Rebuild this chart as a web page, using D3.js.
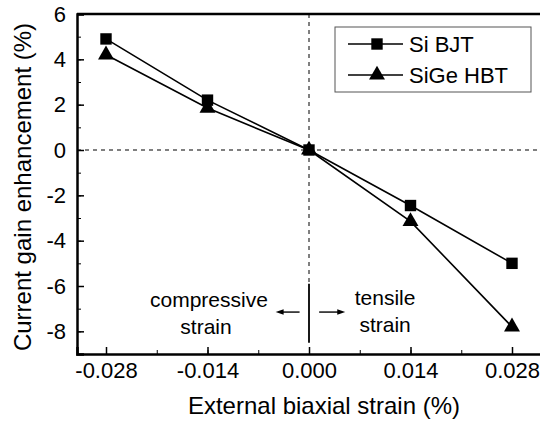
<!DOCTYPE html>
<html>
<head>
<meta charset="utf-8">
<script src="https://cdnjs.cloudflare.com/ajax/libs/d3/7.8.5/d3.min.js"></script>
<style>
  body { margin: 0; background: #fff; }
  svg { display: block; font-family: "Liberation Sans", Arial, sans-serif; }
  .axis text { font-size: 22px; fill: #000; }
  .axis path, .axis line { stroke: #000; }
</style>
</head>
<body>
<svg id="chart" width="540" height="422"></svg>
<script>
"use strict";

// strain values (%)
var strains = [-0.028, -0.014, 0.000, 0.014, 0.028];
var siBJT = [4.9, 2.2, 0.0, -2.45, -5.0];
var siGeHBT = [4.2, 1.85, 0.0, -3.15, -7.8];
var xTicks = [-0.028, -0.014, 0.000, 0.014, 0.028];
var yTicks = [-8, -6, -4, -2, 0, 2, 4, 6];

var svg = d3.select("#chart");
var margin = { left: 77, top: 14, right: -1, bottom: 68 };
var width = 540 - margin.left - margin.right;
var height = 422 - margin.top - margin.bottom;

var x = d3.scaleLinear().domain([-0.032, 0.032]).range([0, width]);
var y = d3.scaleLinear().domain([-9, 6]).range([height, 0]);

var g = svg.append("g")
    .attr("transform", "translate(" + margin.left + "," + margin.top + ")");

/*
 * Reference dashed lines
 */
g.append("line")
    .attr("x1", 0).attr("x2", width)
    .attr("y1", y(0)).attr("y2", y(0))
    .attr("stroke", "#000").attr("stroke-width", 1)
    .attr("stroke-dasharray", "4,4");
g.append("line")
    .attr("x1", x(0)).attr("x2", x(0))
    .attr("y1", 0).attr("y2", y(-5.9))
    .attr("stroke", "#000").attr("stroke-width", 1)
    .attr("stroke-dasharray", "4,4");

/*
 * Axes with inward ticks
 */
var minorX = d3.range(-0.028, 0.0281, 0.007);
var minorY = d3.range(-9, 6.1, 1);

g.append("g")
    .attr("class", "axis")
    .attr("transform", "translate(0," + height + ")")
    .call(d3.axisBottom(x).tickValues(minorX).tickSize(-4).tickFormat(""))
    .call(function(s) { s.select(".domain").remove(); });
g.append("g")
    .attr("class", "axis axis--x")
    .attr("transform", "translate(0," + height + ")")
    .call(d3.axisBottom(x).tickValues(xTicks).tickSize(-7).tickPadding(8)
        .tickFormat(d3.format(".3f")))
    .call(function(s) {
        s.select(".domain").attr("stroke-width", 2.5);
        s.selectAll("line").attr("stroke-width", 1.5);
        s.selectAll("text").text(function(d) { return d3.format(".3f")(d).replace("−", "-"); });
    });

g.append("g")
    .attr("class", "axis")
    .call(d3.axisLeft(y).tickValues(minorY).tickSize(-4).tickFormat(""))
    .call(function(s) { s.select(".domain").remove(); });
g.append("g")
    .attr("class", "axis axis--y")
    .call(d3.axisLeft(y).tickValues(yTicks).tickSize(-7).tickPadding(11)
        .tickFormat(function(d) { return String(d); }))
    .call(function(s) {
        s.select(".domain").attr("stroke-width", 2.5);
        s.selectAll("line").attr("stroke-width", 1.5);
    });

// top frame
g.append("line")
    .attr("x1", 0).attr("x2", width)
    .attr("y1", 0).attr("y2", 0)
    .attr("stroke", "#000").attr("stroke-width", 2.5);

/*
 * Series
 */
var series = [
    { name: "Si BJT", values: siBJT, symbol: d3.symbolSquare, size: 130 },
    { name: "SiGe HBT", values: siGeHBT, symbol: d3.symbolTriangle, size: 110 }
];

var line = d3.line()
    .x(function(d) { return x(d.x); })
    .y(function(d) { return y(d.y); });

series.forEach(function(s) {
    var pts = strains.map(function(v, i) { return { x: v, y: s.values[i] }; });
    g.append("path")
        .datum(pts)
        .attr("fill", "none")
        .attr("stroke", "#000")
        .attr("stroke-width", 1.6)
        .attr("d", line);
    g.selectAll(null)
        .data(pts)
        .enter().append("path")
        .attr("transform", function(d) { return "translate(" + x(d.x) + "," + y(d.y) + ")"; })
        .attr("d", d3.symbol().type(s.symbol).size(s.size))
        .attr("fill", "#000");
});

/*
 * Strain annotation
 */
var ann = g.append("g").attr("font-size", 21);
ann.append("line")
    .attr("x1", x(0)).attr("x2", x(0))
    .attr("y1", y(-5.9)).attr("y2", y(-8.5))
    .attr("stroke", "#000").attr("stroke-width", 1.8);

var arrowY = y(-7.15);
[[-0.0013, -0.0046], [0.0014, 0.0050]].forEach(function(a) {
    var x1 = x(a[0]), x2 = x(a[1]);
    var dir = x2 > x1 ? 1 : -1;
    ann.append("line")
        .attr("x1", x1).attr("x2", x2 - dir * 5)
        .attr("y1", arrowY).attr("y2", arrowY)
        .attr("stroke", "#000").attr("stroke-width", 1.4);
    ann.append("path")
        .attr("d", "M" + x2 + "," + arrowY + "L" + (x2 - dir * 8) + "," + (arrowY - 2.8) +
            "L" + (x2 - dir * 8) + "," + (arrowY + 2.8) + "Z")
        .attr("fill", "#000");
});

ann.append("text").attr("x", x(-0.0138)).attr("y", y(-6.93))
    .attr("text-anchor", "middle").text("compressive");
ann.append("text").attr("x", x(-0.0142)).attr("y", y(-8.12))
    .attr("text-anchor", "middle").text("strain");
ann.append("text").attr("x", x(0.0105)).attr("y", y(-6.85))
    .attr("text-anchor", "middle").text("tensile");
ann.append("text").attr("x", x(0.0105)).attr("y", y(-8.03))
    .attr("text-anchor", "middle").text("strain");

/*
 * Legend
 */
var legend = svg.append("g").attr("transform", "translate(335,27)");
legend.append("rect")
    .attr("width", 196).attr("height", 65)
    .attr("fill", "#fff").attr("stroke", "#555").attr("stroke-width", 1);
series.forEach(function(s, i) {
    var ly = 17 + i * 31;
    legend.append("line")
        .attr("x1", 13).attr("x2", 68)
        .attr("y1", ly).attr("y2", ly)
        .attr("stroke", "#000").attr("stroke-width", 1.6);
    legend.append("path")
        .attr("transform", "translate(42," + ly + ")")
        .attr("d", d3.symbol().type(s.symbol).size(s.size))
        .attr("fill", "#000");
    legend.append("text")
        .attr("x", 74).attr("y", ly + 8)
        .attr("font-size", 22)
        .text(s.name);
});

/*
 * Axis titles
 */
svg.append("text")
    .attr("x", 324).attr("y", 414)
    .attr("text-anchor", "middle")
    .attr("font-size", 24)
    .text("External biaxial strain (%)");
svg.append("text")
    .attr("transform", "translate(31,187) rotate(-90)")
    .attr("text-anchor", "middle")
    .attr("font-size", 24)
    .text("Current gain enhancement (%)");
</script>
</body>
</html>
